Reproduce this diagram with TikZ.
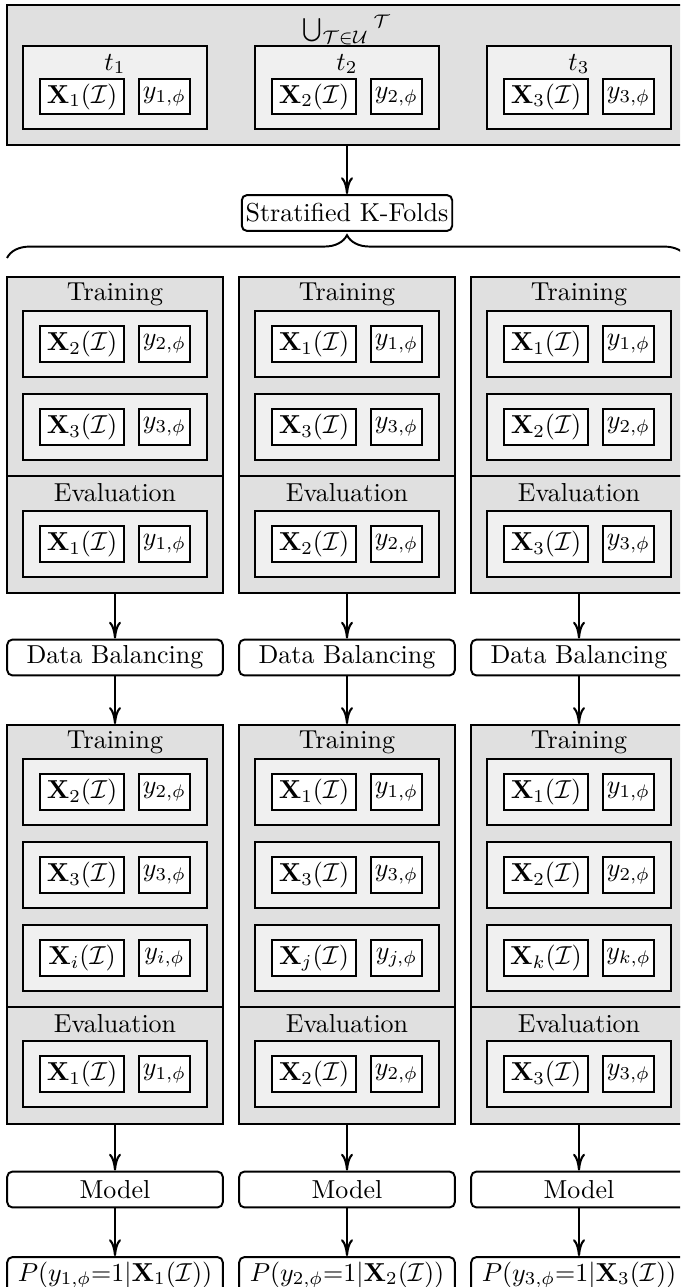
\documentclass[tikz,border=0pt]{standalone}
\usepackage{graphicx}
\usetikzlibrary{arrows.meta,positioning,decorations.pathreplacing}
\colorlet{outergray}{black!12}
\colorlet{innergray}{black!6}
\begin{document}
\begin{tikzpicture}[x=0.385pt,y=-0.385pt,
    panel/.style={draw,line width=0.75pt,fill=outergray,minimum width=83pt,inner sep=0pt},
    group/.style={draw,line width=0.75pt,fill=innergray,minimum width=70.8pt,minimum height=25.4pt,inner sep=0pt},
    feat/.style={draw,line width=0.75pt,fill=white,minimum width=32.3pt,minimum height=13.8pt,inner sep=1pt},
    lbl/.style={draw,line width=0.75pt,fill=white,minimum width=19.6pt,minimum height=13.8pt,inner sep=1pt},
    stepbox/.style={draw,line width=0.75pt,rounded corners=2pt,fill=white,minimum width=83pt,minimum height=13.8pt,inner sep=1.5pt},
    flow/.style={-{To[length=6.5pt,width=4.6pt]},line width=0.8pt}]
    \clip (0,0) rectangle (680,1287);
    % union of all tasks
    \node[panel,minimum width=261.8pt,minimum height=53.9pt] (all) at (347,75) {};
    \foreach \i/\cx in {1/115,2/347,3/579}{
        \node[group,minimum height=32pt] (task\i) at (\cx,87.5) {};
        \node (taskt\i) at (\cx,64) {$t_{\i}$};
        \node[feat] (taskx\i) at (\cx-33,96.5) {$\mathbf{X}_{\i}(\mathcal{I})$};
        \node[lbl] (tasky\i) at (\cx+49.5,96.5) {$y_{\i,\phi}$};
    }
    \node[inner sep=0pt] (union) at (347,30) {$\mathop{\vcenter{\hbox{\scalebox{0.9}{$\bigcup$}}}}_{\mathcal{T}\in\mathcal{U}}{}^{\mathcal{T}}$};
    \node[stepbox,minimum width=0pt] (kfold) at (347,213) {Stratified K-Folds};
    \draw[flow] (all) -- (kfold);
    \coordinate (bl) at (7,258);
    \coordinate (br) at (687,258);
    \draw[line width=0.75pt,decorate,decoration={brace,amplitude=8.8pt}] (bl) -- (br);
    % folds
    \foreach \c/\cx/\a/\b/\e/\extra in {1/115/2/3/1/i,2/347/1/3/2/j,3/579/1/2/3/k}{
        % before balancing
        \node[panel,minimum height=76.6pt] (trA\c) at (\cx,376.5) {};
        \node (trAt\c) at (\cx,294) {Training};
        \foreach \k [count=\n] in {\a,\b}{
            \node[group] (gA\c\n) at (\cx,261+83*\n) {};
            \node[feat] (xA\c\n) at (\cx-33,261+83*\n) {$\mathbf{X}_{\k}(\mathcal{I})$};
            \node[lbl] (yA\c\n) at (\cx+49.5,261+83*\n) {$y_{\k,\phi}$};
        }
        \node[panel,minimum height=45pt] (evA\c) at (\cx,534.5) {};
        \node (evAt\c) at (\cx,493) {Evaluation};
        \node[group] (geA\c) at (\cx,544) {};
        \node[feat] (xeA\c) at (\cx-33,544) {$\mathbf{X}_{\e}(\mathcal{I})$};
        \node[lbl] (yeA\c) at (\cx+49.5,544) {$y_{\e,\phi}$};
        \node[stepbox] (dbA\c) at (\cx,657.5) {Data Balancing};
        % after balancing
        \node[panel,minimum height=108.6pt] (trB\c) at (\cx,866) {};
        \node (trBt\c) at (\cx,742) {Training};
        \foreach \k [count=\n] in {\a,\b,\extra}{
            \node[group] (gB\c\n) at (\cx,709+83*\n) {};
            \node[feat] (xB\c\n) at (\cx-33,709+83*\n) {$\mathbf{X}_{\k}(\mathcal{I})$};
            \node[lbl] (yB\c\n) at (\cx+49.5,709+83*\n) {$y_{\k,\phi}$};
        }
        \node[panel,minimum height=45pt] (evB\c) at (\cx,1065.5) {};
        \node (evBt\c) at (\cx,1024) {Evaluation};
        \node[group] (geB\c) at (\cx,1074) {};
        \node[feat] (xeB\c) at (\cx-33,1074) {$\mathbf{X}_{\e}(\mathcal{I})$};
        \node[lbl] (yeB\c) at (\cx+49.5,1074) {$y_{\e,\phi}$};
        \node[stepbox] (mod\c) at (\cx,1189.5) {Model};
        \node[stepbox] (prob\c) at (\cx,1275) {$P(y_{\e,\phi}{=}1|\mathbf{X}_{\e}(\mathcal{I}))$};
        \draw[flow] (evA\c) -- (dbA\c);
        \draw[flow] (dbA\c) -- (trB\c);
        \draw[flow] (evB\c) -- (mod\c);
        \draw[flow] (mod\c) -- (prob\c);
    }
\end{tikzpicture}
\end{document}
